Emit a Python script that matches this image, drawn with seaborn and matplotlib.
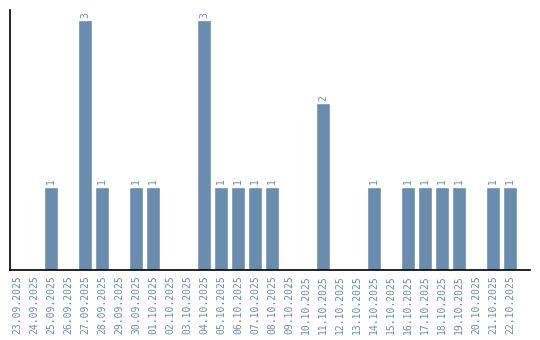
import matplotlib
matplotlib.use("Agg")
import matplotlib.pyplot as plt
import seaborn as sns
import pandas as pd

dates = ["23.09.2025", "24.09.2025", "25.09.2025", "26.09.2025", "27.09.2025", "28.09.2025",
         "29.09.2025", "30.09.2025", "01.10.2025", "02.10.2025", "03.10.2025", "04.10.2025",
         "05.10.2025", "06.10.2025", "07.10.2025", "08.10.2025", "09.10.2025", "10.10.2025",
         "11.10.2025", "12.10.2025", "13.10.2025", "14.10.2025", "15.10.2025", "16.10.2025",
         "17.10.2025", "18.10.2025", "19.10.2025", "20.10.2025", "21.10.2025", "22.10.2025"]
counts = [0, 0, 1, 0, 3, 1, 0, 1, 1, 0, 0, 3, 1, 1, 1, 1, 0, 0, 2, 0, 0, 1, 0, 1, 1, 1, 1, 0, 1, 1]

df = pd.DataFrame({"date": dates, "count": counts})

sns.set_style("white")
plt.rcParams["font.family"] = ["DejaVu Sans Mono"]

color = "#6a8caf"
fig = plt.figure(figsize=(5.4, 3.4), dpi=100)
ax = fig.add_axes([10 / 540, 70 / 340, 520 / 540, 260 / 340])
sns.barplot(data=df, x="date", y="count", color=color, saturation=1, width=0.82, ax=ax)

for i, c in enumerate(counts):
    if c > 0:
        ax.text(i, c + 0.03, str(c), rotation=90, ha="center", va="bottom",
                fontsize=7, color=color)

ax.set_ylim(0, 3.12)
ax.set_xlim(-0.41, -0.41 + 520 / 17)
ax.set_xlabel("")
ax.set_ylabel("")
ax.set_yticks([])
ax.tick_params(axis="x", length=0, pad=4, labelsize=7, labelcolor=color, rotation=90)
for s in ["top", "right"]:
    ax.spines[s].set_visible(False)
for s in ["left", "bottom"]:
    ax.spines[s].set_color("black")
    ax.spines[s].set_linewidth(1.2)

fig.savefig("out.png", dpi=100)
